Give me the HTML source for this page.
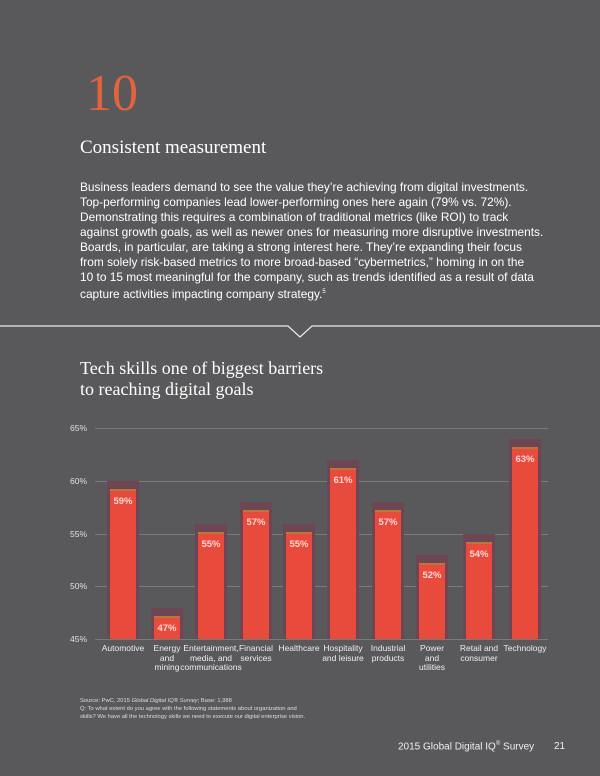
<!DOCTYPE html>
<html><head><meta charset="utf-8"><style>
body{margin:0;width:600px;height:776px;background:#59595b;position:relative;overflow:hidden;font-family:"Liberation Sans",sans-serif;color:#fff}
.a{position:absolute}
.serif{font-family:"Liberation Serif",serif}
.p{left:80px;top:180px;font-size:11.9px;line-height:15px;white-space:nowrap;color:#fff}
.g{position:absolute;left:95px;width:453px;height:1px;background:#7a7a7c}
.yl{position:absolute;left:70px;font-size:8.5px;color:#e0e0e0}
.bar{position:absolute;width:26px;background:#e84b3c;border-top:2px solid #b9773a}
.sh{position:absolute;width:32px;background:#6d4553}
.v{position:absolute;width:40px;text-align:center;font-size:9.5px;font-weight:bold;color:#ffd8d8}
.xl{position:absolute;width:70px;text-align:center;font-size:8.5px;line-height:9.5px;color:#eee}
</style></head><body>
<div class="a serif" style="left:86px;top:66px;font-size:52px;color:#e2643c;line-height:56px">10</div>
<div class="a serif" style="left:80px;top:137px;font-size:19px;color:#fff">Consistent measurement</div>
<div class="a p">Business leaders demand to see the value they’re achieving from digital investments.<br>Top-performing companies lead lower-performing ones here again (79% vs. 72%).<br>Demonstrating this requires a combination of traditional metrics (like ROI) to track<br>against growth goals, as well as newer ones for measuring more disruptive investments.<br>Boards, in particular, are taking a strong interest here. They’re expanding their focus<br>from solely risk-based metrics to more broad-based “cybermetrics,” homing in on the<br>10 to 15 most meaningful for the company, such as trends identified as a result of data<br>capture activities impacting company strategy.<sup style="font-size:6px">5</sup></div>
<svg class="a" style="left:0;top:320px" width="600" height="20"><polyline points="0,6 288,6 300,17 312,6 600,6" fill="none" stroke="#e8e8e8" stroke-width="1.2"/></svg>
<div class="a serif" style="left:80px;top:358px;font-size:18px;line-height:21px">Tech skills one of biggest barriers<br>to reaching digital goals</div>
<div class="g" style="top:428px"></div><div class="g" style="top:481px"></div><div class="g" style="top:534px"></div><div class="g" style="top:586px"></div><div class="g" style="top:639px"></div>
<div class="yl" style="top:423px">65%</div><div class="yl" style="top:476px">60%</div><div class="yl" style="top:529px">55%</div><div class="yl" style="top:581px">50%</div><div class="yl" style="top:634px">45%</div>
<div id="bars"></div>
<script>
var d=[[123,59,"Automotive"],[167,47,"Energy<br>and<br>mining"],[211,55,"Entertainment,<br>media, and<br>communications"],[256,57,"Financial<br>services"],[299,55,"Healthcare"],[343,61,"Hospitality<br>and leisure"],[388,57,"Industrial<br>products"],[432,52,"Power<br>and<br>utilities"],[479,54,"Retail and<br>consumer"],[525,63,"Technology"]];
var h="";d.forEach(function(b){var t=639-(b[1]-45)*10.55-2;h+='<div class="sh" style="left:'+(b[0]-16)+'px;top:'+(t-8)+'px;height:'+(639-t+8)+'px"></div><div class="bar" style="left:'+(b[0]-13)+'px;top:'+t+'px;height:'+(639-t-2)+'px"></div><div class="v" style="left:'+(b[0]-20)+'px;top:'+(t+7)+'px">'+b[1]+'%</div><div class="xl" style="left:'+(b[0]-35)+'px;top:644px">'+b[2]+'</div>';});
document.getElementById("bars").innerHTML=h;
</script>
<div class="a" style="left:80px;top:697px;font-size:5.8px;line-height:8px;color:#ddd">Source: PwC, 2015 <i>Global Digital IQ® Survey</i>; Base: 1,988<br>Q: To what extent do you agree with the following statements about organization and<br>skills? We have all the technology skills we need to execute our digital enterprise vision.</div>
<div class="a" style="left:398px;top:741px;font-size:10px;color:#eee">2015 Global Digital IQ<sup style="font-size:6px">®</sup> Survey</div>
<div class="a" style="left:554px;top:741px;font-size:10px;color:#eee">21</div>
</body></html>
